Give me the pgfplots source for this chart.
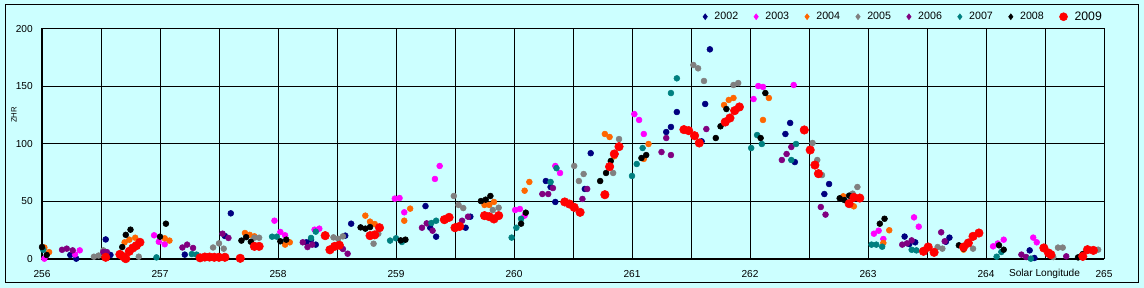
\documentclass[border=0pt]{standalone}
\usepackage{fontspec}
\setmainfont{Liberation Sans}
\usepackage{pgfplots}
\pgfplotsset{compat=1.18}
\definecolor{bgc}{HTML}{CCFFFF}
\definecolor{c02}{HTML}{000080}
\definecolor{c03}{HTML}{FF00FF}
\definecolor{c04}{HTML}{FF6600}
\definecolor{c05}{HTML}{808080}
\definecolor{c06}{HTML}{800080}
\definecolor{c07}{HTML}{008080}
\definecolor{c08}{HTML}{000000}
\definecolor{c09}{HTML}{FF0000}
\begin{document}
\begin{tikzpicture}[x=1pt,y=1pt]
\fill[bgc] (0,0) rectangle (858,216);
\draw[black, line width=0.75pt] (3.75,3.75) rectangle (853.5,212.25);
\begin{axis}[
  at={(31.5pt,21.75pt)}, anchor=south west,
  scale only axis, width=796.5pt, height=172.5pt,
  xmin=256, xmax=265, ymin=0, ymax=200,
  clip=false,
  xtick={256,257,...,265},
  minor xtick={256.5,257.5,...,264.5},
  ytick={0,50,...,200},
  grid=both,
  major grid style={black, line width=0.75pt},
  minor grid style={black, line width=0.75pt},
  axis line style={black, line width=0.75pt},
  major tick length=0pt, minor tick length=0pt,
  /pgf/number format/assume math mode=true,
  xticklabel style={font=\fontsize{7.6}{9}\selectfont, anchor=center, inner sep=0pt, yshift=-11.25pt},
  yticklabel style={font=\fontsize{7.6}{9}\selectfont, anchor=east, inner sep=0pt, xshift=-6.75pt},
  xlabel={Solar Longitude},
  xlabel style={at={(rel axis cs:0.944,0)}, anchor=center, yshift=-11.25pt, font=\fontsize{7.6}{9}\selectfont, inner sep=0pt},
  ylabel={ZHR},
  ylabel style={at={(rel axis cs:-0.0264,0.626)}, anchor=center, font=\fontsize{5.8}{6}\selectfont, inner sep=0pt},
  legend columns=-1,
  legend style={at={(rel axis cs:0.624,1)}, anchor=west, xshift=-1.65pt, yshift=9.2pt, draw=none, fill=none, inner sep=0pt, font=\fontsize{8}{9}\selectfont,
    nodes={inner sep=0pt, anchor=west},
    /tikz/every odd column/.style={column sep=5.1pt},
    /tikz/every even column/.style={column sep=11.6pt}},
  legend image code/.code={\fill[#1] (0pt,2.2pt) -- (1.65pt,0pt) -- (0pt,-2.2pt) -- (-1.65pt,0pt) -- cycle;},
]
\addplot[only marks, mark=*, mark size=2.2pt, mark options={draw=none, fill=c02}, color=c02] coordinates {
(256.24,3.5) (256.29,0.3) (256.54,17) (256.58,3.5) (257.21,3.8) (257.55,20) (257.60,39.7)
(258.24,14.5) (258.28,16.8) (258.32,12.5) (258.57,20.3) (258.62,30.7) (259.25,46) (259.29,27.2)
(259.34,19.4) (259.59,27.2) (259.63,36.8) (260.27,67.8) (260.31,62.6) (260.35,49.6) (260.60,60.9)
(260.65,92) (261.29,110.4) (261.33,114.8) (261.38,127.8) (261.59,102.3) (261.62,134.8) (261.66,182.3)
(262.30,108.7) (262.34,118.3) (262.38,84.3) (262.63,56.5) (262.67,65.2) (263.31,19.5) (263.35,13)
(263.40,14.5) (263.66,15) (263.69,18.6) (264.37,7.5) (264.41,0.9)
};
\addlegendentry{2002}
\addplot[only marks, mark=*, mark size=2.2pt, mark options={draw=none, fill=c03}, color=c03] coordinates {
(256.02,0.3) (256.28,4) (256.32,7.5) (256.95,20.6) (256.99,15) (257.04,12.8) (257.97,33.3)
(258.02,23.5) (258.06,20.6) (258.31,25.5) (258.35,26.4) (258.99,52.5) (259.03,53) (259.07,40.6)
(259.33,69.6) (259.37,80.9) (260.01,42.6) (260.05,43.5) (260.09,37.7) (260.35,80.9) (260.39,74.8)
(261.02,126) (261.06,120.9) (261.10,108.7) (262.03,139.1) (262.07,150.4) (262.11,149.6) (262.37,151.3)
(263.05,22) (263.09,24.6) (263.13,17.4) (263.39,36.2) (263.43,28.1) (264.06,11) (264.10,13.5) (264.15,16.8)
(264.40,18.6) (264.43,14.5)
};
\addlegendentry{2003}
\addplot[only marks, mark=*, mark size=2.2pt, mark options={draw=none, fill=c04}, color=c04] coordinates {
(256.02,10) (256.06,6) (256.70,14.5) (256.74,16.8) (256.79,18.5) (257.04,18) (257.08,16)
(257.72,22.6) (257.76,21) (257.80,19.7) (258.06,12.5) (258.10,14.5) (258.74,37.7) (258.78,32.5)
(258.82,30.4) (259.07,33.3) (259.12,43.8) (259.75,47) (259.79,47) (259.83,49.6) (260.09,59.4)
(260.13,67) (260.77,108.7) (260.81,106.1) (260.85,89.3) (261.10,87) (261.14,100) (261.78,133.9)
(261.82,138.3) (261.86,140) (262.11,120.9) (262.16,140) (262.79,54.5) (262.88,45.8) (263.13,14)
(263.18,25) (263.81,8.1)
};
\addlegendentry{2004}
\addplot[only marks, mark=*, mark size=2.2pt, mark options={draw=none, fill=c05}, color=c05] coordinates {
(256.44,2) (256.48,3) (256.52,7.5) (256.82,2) (257.45,10) (257.50,13.6) (257.54,9)
(257.80,18.5) (257.84,18.5) (258.47,18.8) (258.51,17.6) (258.55,19.7) (258.81,13.3) (258.85,22)
(259.49,54.8) (259.53,47) (259.57,44.3) (259.82,42.6) (259.87,44.6) (260.51,80.9) (260.55,67.8)
(260.59,73.9) (260.84,74.8) (260.89,104.3) (261.52,168.7) (261.56,165.8) (261.61,154.8) (261.86,151.3)
(261.90,153) (262.53,100.9) (262.57,86.1) (262.61,73) (262.87,56.8) (262.91,62.6) (263.59,10.4)
(263.63,9) (263.89,9) (264.57,1.7) (264.61,9.9) (264.65,9.9) (264.95,8.1)
};
\addlegendentry{2005}
\addplot[only marks, mark=*, mark size=2.2pt, mark options={draw=none, fill=c06}, color=c06] coordinates {
(256.17,8) (256.21,9) (256.26,7.5) (256.52,6) (256.55,6) (257.19,10) (257.23,12.5) (257.28,9.6)
(257.53,22) (257.58,18.3) (258.21,14.5) (258.25,10.4) (258.29,12.5) (258.55,8.7) (258.59,4.6)
(259.22,27.2) (259.26,31) (259.31,24.6) (259.56,33.3) (259.61,36.8) (260.24,56.5) (260.29,56.5)
(260.33,61.7) (260.58,52.2) (260.62,60.9) (261.25,93) (261.29,105.2) (261.33,90.4) (261.63,113)
(262.27,86.1) (262.31,91.3) (262.35,97.4) (262.60,45.2) (262.64,38.6) (263.29,12.5) (263.33,13.6)
(263.37,16.2) (263.62,23.2) (263.65,15.4) (264.30,3.8) (264.34,1.7) (264.68,2.3)
};
\addlegendentry{2006}
\addplot[only marks, mark=*, mark size=2.2pt, mark options={draw=none, fill=c07}, color=c07] coordinates {
(256.01,8) (256.97,1.4) (257.27,4.3) (257.31,3.8) (257.95,19.4) (257.99,19.4) (258.28,18.3)
(258.32,23.8) (258.95,16) (259.0,18) (259.05,14.8) (259.30,31.3) (259.34,33.3) (259.98,18.6)
(260.02,27.2) (260.06,35) (260.31,67) (260.36,79) (261.0,72.2) (261.04,82.6) (261.09,96.5)
(261.33,144.3) (261.38,157.1) (262.01,96.5) (262.06,107.8) (262.10,100) (262.35,86.1) (262.39,100)
(263.03,12.5) (263.07,12.5) (263.12,10.7) (263.37,8) (263.41,7.5) (264.09,2) (264.13,6.1) (264.38,0.3)
};
\addlegendentry{2007}
\addplot[only marks, mark=*, mark size=2.2pt, mark options={draw=none, fill=c08}, color=c08] coordinates {
(256.0,10.4) (256.04,3.5) (256.68,10.4) (256.71,21) (256.75,25.5) (257.0,19.4) (257.05,30.7)
(257.69,16) (257.73,19) (257.77,15) (258.02,15.4) (258.07,16.8) (258.70,27.5) (258.74,26.4)
(258.78,27.8) (259.04,16.2) (259.08,16.8) (259.72,50.4) (259.76,51.6) (259.80,54.8) (260.06,30.7)
(260.10,40.3) (260.73,67.8) (260.78,74.8) (260.82,85.2) (261.08,87.8) (261.12,90.4) (261.71,105.2)
(261.75,115.4) (261.80,130.4) (262.09,105.2) (262.13,144.3) (262.76,52.8) (262.80,51.3) (262.84,55.1)
(263.10,30.7) (263.14,35) (263.77,11.9) (263.81,9) (264.11,11.9) (264.15,8.1) (264.78,1.4) (264.82,4.3)
};
\addlegendentry{2008}
\addplot[only marks, mark=*, mark size=3.2pt, mark options={draw=none, fill=c09}, color=c09,
  legend image code/.code={\fill[c09] (0pt,0pt) circle (3pt);}] coordinates {
(256.54,1.5) (256.66,4) (256.69,2) (256.71,0.3) (256.74,6.7) (256.77,9.6) (256.80,11.6) (256.83,14.5)
(257.34,1) (257.38,1.7) (257.42,1.7) (257.46,1.5) (257.50,1.5) (257.55,1.5) (257.68,0.6) (257.80,11)
(257.84,11) (258.40,20.3) (258.44,8) (258.48,11) (258.52,12) (258.78,20.3) (258.82,21) (258.86,27.2)
(259.41,34.2) (259.45,36.2) (259.50,27.2) (259.54,28.4) (259.75,37.7) (259.79,36.8) (259.83,34.8)
(259.87,37.7) (260.43,49.6) (260.47,47.8) (260.51,44.9) (260.56,40.6) (260.77,55.9) (260.81,80.3)
(260.85,91.3) (260.89,97.7) (261.44,112.5) (261.48,111.6) (261.53,107.2) (261.57,100.9) (261.79,119.1)
(261.83,122.6) (261.87,129) (261.91,132.2) (262.46,112.2) (262.51,94.8) (262.55,81.7) (262.58,74.2)
(262.84,48.1) (262.88,53.6) (262.93,53) (263.47,6.7) (263.51,10.4) (263.56,5.8) (263.81,10.4)
(263.85,13.9) (263.89,19.7) (263.94,22.6) (264.49,9.6) (264.53,5.2) (264.55,3.8) (264.82,2.3)
(264.86,8.1) (264.91,7.5)
};
\addlegendentry{\fontsize{9.2}{10}\selectfont 2009}
\draw[black, line width=1.5pt] (rel axis cs:0,1) -- (rel axis cs:0,0) -- (rel axis cs:1,0);
\end{axis}
\pgfresetboundingbox
\useasboundingbox (0,0) rectangle (858,216);
\end{tikzpicture}
\end{document}
